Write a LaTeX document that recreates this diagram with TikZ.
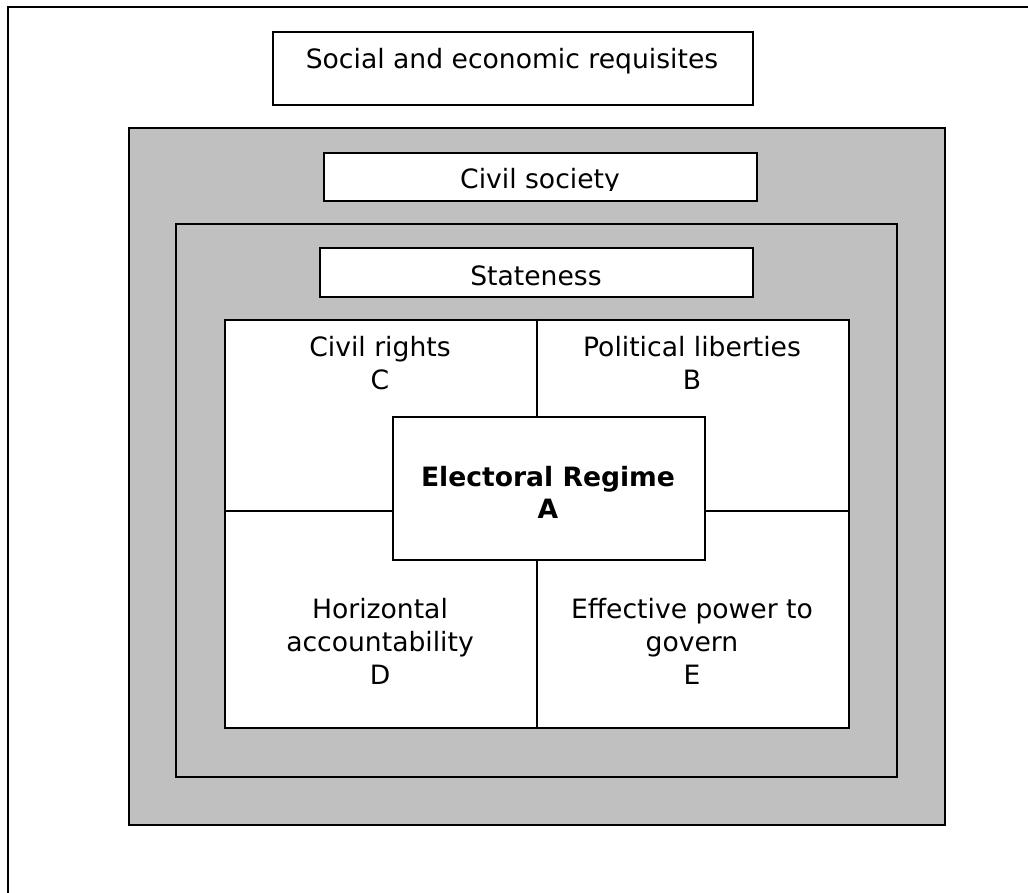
\documentclass[tikz,border=0pt]{standalone}
\usepackage{fontspec}
\setmainfont{DejaVu Sans}
\definecolor{boxgray}{HTML}{C0C0C0}

\begin{document}
\begin{tikzpicture}[x=1pt, y=-1pt, line width=1.8pt,
    frame/.style = {draw, rectangle, inner sep=0pt, anchor=north west, fill=white},
    layer/.style = {frame, fill=boxgray},
    txt/.style = {align=center, anchor=base, inner sep=0pt, font=\fontsize{26.6}{33}\selectfont}]
  \useasboundingbox (0,0) rectangle (1028,893);
  \clip (0,0) rectangle (1028,893);

  % page frame, open to the right and below
  \draw (1040,7) -- (8,7) -- (8,900);

  % nested layers
  \node[frame, minimum width=480pt, minimum height=73pt] (requisites) at (272,31) {};
  \node[layer, minimum width=816pt, minimum height=697pt] (society) at (128,127) {};
  \node[frame, minimum width=433pt, minimum height=48pt] (civil) at (323,152) {};
  \node[layer, minimum width=721pt, minimum height=553pt] (state) at (175,223) {};
  \node[frame, minimum width=433pt, minimum height=49pt] (stateness) at (319,247) {};
  \node[frame, minimum width=624pt, minimum height=408pt] (regime) at (224,319) {};
  \node[frame, minimum width=312pt, minimum height=143pt] (core) at (392,416) {};

  % split lines of the four partial regimes
  \coordinate (mx) at (537,0);
  \coordinate (my) at (0,511);
  \draw (regime.north -| mx) -- (core.north -| mx);
  \draw (core.south -| mx) -- (regime.south -| mx);
  \draw (regime.west |- my) -- (core.west |- my);
  \draw (core.east |- my) -- (regime.east |- my);

  % labels (base = last line)
  \node[txt] (t-req) at (512,69) {Social and economic requisites};
  \begin{scope}
    \clip (323,152) rectangle (756,190.5);
    \node[txt] (t-civil) at (540,189) {Civil society};
  \end{scope}
  \node[txt] (t-state) at (536,286) {Stateness};
  \node[txt] (t-c) at (380,389) {Civil rights\\C};
  \node[txt] (t-b) at (692,389) {Political liberties\\B};
  \node[txt, font=\fontsize{26.6}{32}\selectfont\bfseries] (t-a) at (548,518) {Electoral Regime\\A};
  \node[txt] (t-d) at (380,684) {Horizontal\\accountability\\D};
  \node[txt] (t-e) at (692,684) {Effective power to\\govern\\E};
\end{tikzpicture}
\end{document}
